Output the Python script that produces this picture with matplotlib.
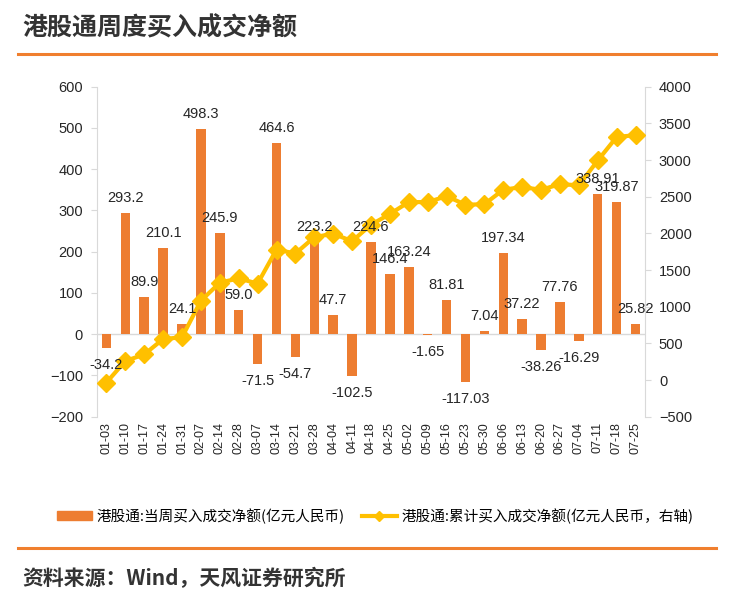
import matplotlib.pyplot as plt
from matplotlib.lines import Line2D
from matplotlib.patches import Patch

plt.rcParams['font.family'] = ['Liberation Sans', 'Noto Sans CJK SC', 'DejaVu Sans']

# weekly dates and HK Stock Connect net buy (100m RMB)
dates = ['01-03', '01-10', '01-17', '01-24', '01-31', '02-07', '02-14', '02-28',
         '03-07', '03-14', '03-21', '03-28', '04-04', '04-11', '04-18', '04-25',
         '05-02', '05-09', '05-16', '05-23', '05-30', '06-06', '06-13', '06-20',
         '06-27', '07-04', '07-11', '07-18', '07-25']
weekly = [-34.2, 293.2, 89.9, 210.1, 24.1, 498.3, 245.9, 59.0,
          -71.5, 464.6, -54.7, 223.2, 47.7, -102.5, 224.6, 146.4,
          163.24, -1.65, 81.81, -117.03, 7.04, 197.34, 37.22, -38.26,
          77.76, -16.29, 338.91, 319.87, 25.82]
weekly_labels = ['-34.2', '293.2', '89.9', '210.1', '24.1', '498.3', '245.9', '59.0',
                 '-71.5', '464.6', '-54.7', '223.2', '47.7', '-102.5', '224.6', '146.4',
                 '163.24', '-1.65', '81.81', '-117.03', '7.04', '197.34', '37.22', '-38.26',
                 '77.76', '-16.29', '338.91', '319.87', '25.82']
# cumulative net buy (right axis)
cumulative = [-34.2, 259.0, 348.9, 559.0, 583.1, 1081.4, 1327.3, 1386.3,
              1314.8, 1779.4, 1724.7, 1947.9, 1995.6, 1893.1, 2117.7, 2264.1,
              2427.3, 2425.7, 2507.5, 2390.5, 2397.5, 2594.9, 2632.1, 2593.8,
              2671.6, 2655.3, 2994.2, 3314.1, 3339.9]

bar_color = '#ED7D31'
line_color = '#FFC000'
grid_gray = '#D9D9D9'
text_color = '#262626'
cjk = ['Noto Sans CJK SC', 'DejaVu Sans']

fig = plt.figure(figsize=(7.5, 6.09), dpi=100)
ax = fig.add_axes([0.1293, 0.3158, 0.7307, 0.5418])
ax2 = ax.twinx()

x = list(range(len(dates)))
ax.bar(x, weekly, width=0.5, color=bar_color, zorder=2)
ax.axhline(0, color=grid_gray, linewidth=1, zorder=1)

ax2.plot(x, cumulative, color=line_color, linewidth=3, marker='D', markersize=9,
         zorder=3)

# bar labels drawn on the top axes so they sit over the line
for xi, v, lab in zip(x, weekly, weekly_labels):
    off = 15 if v >= 0 else -17
    ax2.annotate(lab, (xi, v), xycoords=ax.transData, xytext=(0, off),
                 textcoords='offset pixels', ha='center', va='center',
                 fontsize=10.5, color=text_color, zorder=5)

ax.set_xlim(-0.5, len(dates) - 0.5)
ax.set_ylim(-200, 600)
ax.set_yticks(range(-200, 601, 100))
ax2.set_ylim(-500, 4000)
ax2.set_yticks(range(-500, 4001, 500))

ax.set_xticks(x)
ax.set_xticklabels(dates, rotation=90, fontsize=9, color=text_color)
ax.tick_params(axis='x', length=0, pad=4)
ax.tick_params(axis='y', labelsize=10.5, colors=grid_gray, labelcolor=text_color, length=4, pad=6)
ax2.tick_params(axis='y', labelsize=10.5, colors=grid_gray, labelcolor=text_color, length=4, pad=6)

for a in (ax, ax2):
    a.spines['top'].set_visible(False)
    a.spines['bottom'].set_visible(False)
    a.spines['left'].set_color(grid_gray)
    a.spines['right'].set_color(grid_gray)
ax.spines['right'].set_visible(False)
ax2.spines['left'].set_visible(False)
ax2.set_zorder(ax.get_zorder() + 1)
ax2.patch.set_visible(False)

handles = [Patch(color=bar_color),
           Line2D([0], [0], color=line_color, linewidth=3, marker='D', markersize=5)]
labels = ['港股通:当周买入成交净额(亿元人民币)', '港股通:累计买入成交净额(亿元人民币，右轴)']
fig.legend(handles, labels, loc='center', bbox_to_anchor=(0.5, 1 - 516 / 609), ncol=2,
           frameon=False, handlelength=2.4, handleheight=0.5,
           columnspacing=1.2, handletextpad=0.3,
           prop={'family': cjk, 'size': 10.5})

# header and footer
fig.text(22 / 750, 1 - 28 / 609, '港股通周度买入成交净额', fontsize=18, fontweight='bold',
         color='#333333', va='center', ha='left', family=cjk)
fig.add_artist(Line2D([18 / 750, 716 / 750], [1 - 54 / 609, 1 - 54 / 609],
                      color='#F07F2E', linewidth=2.2, transform=fig.transFigure))
fig.add_artist(Line2D([18 / 750, 716 / 750], [1 - 548 / 609, 1 - 548 / 609],
                      color='#F07F2E', linewidth=2.2, transform=fig.transFigure))
fig.text(22 / 750, 1 - 578 / 609, '资料来源：Wind，天风证券研究所', fontsize=15,
         fontweight='bold', color='#333333', va='center', ha='left', family=cjk)

fig.savefig('out.png', dpi=100, facecolor='white')
